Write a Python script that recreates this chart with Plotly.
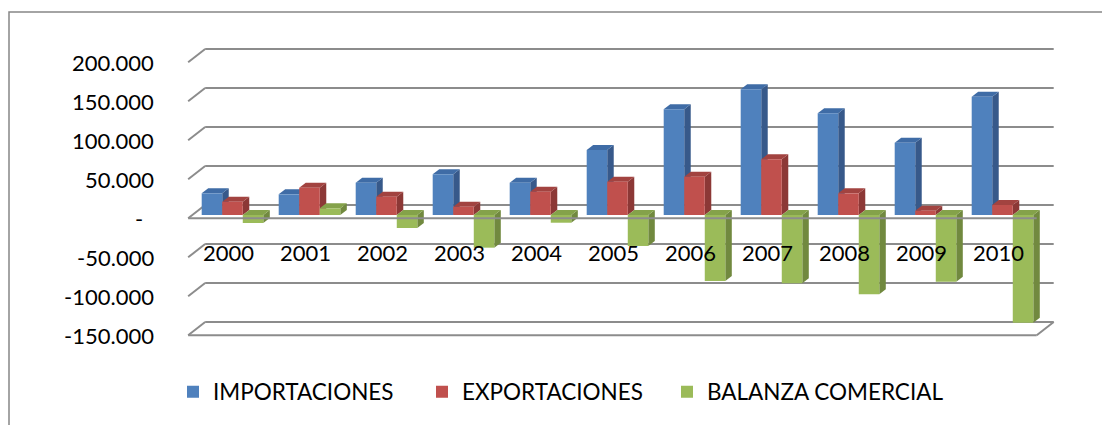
import plotly.graph_objects as go

# ---- data -------------------------------------------------------------
years = ["2000", "2001", "2002", "2003", "2004", "2005",
         "2006", "2007", "2008", "2009", "2010"]
importaciones = [27800, 26500, 41400, 52200, 41400, 83300,
                 135500, 161100, 130400, 92700, 151700]
exportaciones = [17000, 35000, 23500, 10600, 29900, 42700,
                 49100, 71400, 27800, 5500, 12800]
balanza = [-10300, 8600, -16700, -41900, -9900, -39700,
           -84600, -87600, -101700, -85500, -138000]
series_names = ["IMPORTACIONES", "EXPORTACIONES", "BALANZA COMERCIAL"]
tick_values = [-150000, -100000, -50000, 0, 50000, 100000, 150000, 200000]
tick_labels = ["-150.000", "-100.000", "-50.000", "-",
               "50.000", "100.000", "150.000", "200.000"]

# ---- styling ----------------------------------------------------------
FRONT_COLORS = ["#4F81BD", "#C0504D", "#9BBB59"]
SIDE_COLORS = ["#37598A", "#8C3836", "#71893F"]
TOP_COLORS = ["#3F6CA6", "#A24340", "#84A24A"]
GRID_COLOR = "#8C8C8C"
FONT = "Lato, 'Open Sans', sans-serif"

W, H = 1102, 425
L, R, T, B = 150, 1080, 30, 345          # plot area in pixels
PX_PER_CAT = 77.0                         # pixels per category step
PX_PER_VAL = 39.0 / 50000                 # pixels per value unit
X0_PX, Y0_PX = 232.5, 215.0               # pixel of first category / zero


def dx(px):
    return px / PX_PER_CAT


def dv(px):
    return px / PX_PER_VAL


x_range = [(L - X0_PX) / PX_PER_CAT, (R - X0_PX) / PX_PER_CAT]
y_range = [(Y0_PX - B) / PX_PER_VAL, (Y0_PX - T) / PX_PER_VAL]

# pseudo-3D offsets (front of box, back wall, bar depth)
FRONT = (dx(-4.3), dv(-3.3))
BACK = (dx(12.7), dv(10.0))
DEPTH = (dx(6.5), dv(5.0))
n = len(years)
BOX_L, BOX_R = -0.52, n - 0.5

series = [importaciones, exportaciones, balanza]
GROUP_W = 0.8
BAR_W = GROUP_W / len(series)

shapes = []


def line(x0, y0, x1, y1, layer="below", width=2):
    shapes.append(dict(type="line", xref="x", yref="y", x0=x0, y0=y0,
                       x1=x1, y1=y1, layer=layer,
                       line=dict(color=GRID_COLOR, width=width)))


# back wall gridlines and left-wall diagonals
for v in tick_values:
    line(BOX_L + BACK[0], v + BACK[1], BOX_R + BACK[0], v + BACK[1])
    line(BOX_L + FRONT[0], v + FRONT[1], BOX_L + BACK[0], v + BACK[1])

# floor front edge and right edge
vmin = min(tick_values)
line(BOX_L + FRONT[0], vmin + FRONT[1], BOX_R + FRONT[0], vmin + FRONT[1])
line(BOX_R + FRONT[0], vmin + FRONT[1], BOX_R + BACK[0], vmin + BACK[1])


def poly(pts, color):
    path = "M " + " L ".join(f"{x},{y}" for x, y in pts) + " Z"
    shapes.append(dict(type="path", xref="x", yref="y", path=path,
                       fillcolor=color, line=dict(width=0), layer="below"))


# side and top faces of every column
for k, vals in enumerate(series):
    for i, v in enumerate(vals):
        xl = i - GROUP_W / 2 + k * BAR_W
        xr = xl + BAR_W
        top, bot = max(v, 0), min(v, 0)
        poly([(xr, bot), (xr, top), (xr + DEPTH[0], top + DEPTH[1]),
              (xr + DEPTH[0], bot + DEPTH[1])], SIDE_COLORS[k])
        poly([(xl, top), (xr, top), (xr + DEPTH[0], top + DEPTH[1]),
              (xl + DEPTH[0], top + DEPTH[1])], TOP_COLORS[k])

# category axis line along the front, over the columns
line(BOX_L + FRONT[0], FRONT[1], BOX_R + FRONT[0], FRONT[1], layer="above")

# chart-area border (left and top edges visible)
shapes.append(dict(type="rect", xref="paper", yref="paper",
                   x0=(9 - L) / (R - L), x1=(1115 - L) / (R - L),
                   y0=(B - 440) / (B - T), y1=(B - 12) / (B - T),
                   line=dict(color="#868686", width=1.5), layer="below"))

legend_ids = ["legend", "legend2", "legend3"]
legend_x = [173, 422, 667]

fig = go.Figure()
for k, vals in enumerate(series):
    fig.add_trace(go.Bar(
        x=list(range(n)), y=vals, name=series_names[k],
        legend=legend_ids[k],
        marker=dict(color=FRONT_COLORS[k], line=dict(width=0)),
        hovertext=years, hoverinfo="text+y+name"))

annotations = []
for v, t in zip(tick_values, tick_labels):
    annotations.append(dict(
        x=BOX_L + FRONT[0], y=v + FRONT[1], xref="x", yref="y",
        text=t, showarrow=False, xanchor="right", yanchor="middle",
        xshift=-32 if t != "-" else -43,
        font=dict(family=FONT, size=22, color="#000000")))
for i, yr in enumerate(years):
    annotations.append(dict(
        x=i + FRONT[0], y=FRONT[1], xref="x", yref="y",
        text=yr, showarrow=False, xanchor="center", yanchor="middle",
        yshift=-34,
        font=dict(family=FONT, size=22, color="#000000")))

legend_layout = {}
for lid, lx in zip(legend_ids, legend_x):
    legend_layout[lid] = dict(
        orientation="h", xref="container", yref="container",
        x=lx / W, y=1 - 392 / H, xanchor="left", yanchor="middle",
        font=dict(family=FONT, size=22.5, color="#000000"),
        bgcolor="rgba(0,0,0,0)")

fig.update_layout(
    width=W, height=H,
    margin=dict(l=L, r=W - R, t=T, b=H - B),
    paper_bgcolor="#FFFFFF", plot_bgcolor="#FFFFFF",
    barmode="group", bargap=0.2, bargroupgap=0,
    xaxis=dict(range=x_range, visible=False, fixedrange=True),
    yaxis=dict(range=y_range, visible=False, fixedrange=True),
    shapes=shapes, annotations=annotations,
    showlegend=True,
    **legend_layout,
)

fig.write_html("out.html")
